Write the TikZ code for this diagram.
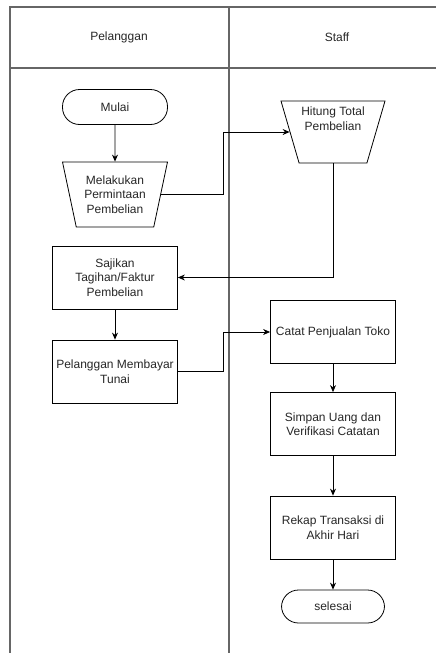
\documentclass[tikz,border=0pt]{standalone}
\usepackage{fontspec}
\setmainfont{Liberation Sans}
\usetikzlibrary{shapes.geometric}
\usetikzlibrary{arrows.meta}

\tikzset{
  lane/.style={draw=black!60, line width=1.3pt},
  txt/.style={font=\fontsize{12}{14.5}\selectfont, text=black!85, align=center},
  proses/.style={txt, draw, line width=0.8pt, minimum width=125pt, minimum height=63pt, inner sep=1pt},
  terminal/.style={txt, draw, line width=0.8pt, rounded corners=17pt, minimum width=105pt, minimum height=35pt, inner sep=0pt},
  manual/.style={txt, draw, line width=0.8pt, trapezium, shape border rotate=180,
    trapezium angle=70, trapezium stretches body, minimum width=104pt, minimum height=64pt, inner sep=0pt},
  panah/.style={-{Stealth[length=7pt,width=6pt]}, line width=0.8pt}
}

\begin{document}
\begin{tikzpicture}[x=1pt,y=-1pt]
\useasboundingbox (0,0) rectangle (436,653);

% swimlanes
\draw[lane] (436,7) -- (10,7) -- (10,653);
\draw[lane] (10,68) -- (436,68);
\draw[lane] (229,7) -- (229,653);
\node[txt] (hpel) at (119,37) {Pelanggan};
\node[txt] (hsta) at (337,37) {Staff};

% pelanggan
\node[terminal] (mulai) at (115,107) {Mulai};
\node[manual, minimum width=105pt, minimum height=65pt] (minta) at (115,194.5) {Melakukan\\Permintaan\\Pembelian};
\node[proses] (saji) at (115,277.5) {Sajikan\\Tagihan/Faktur\\Pembelian};
\node[proses] (bayar) at (115,371.5) {Pelanggan Membayar\\Tunai};

% staff
\node[manual, minimum height=62pt] (hitung) at (333,132) {Hitung Total\\Pembelian\\[12pt]};
\node[proses] (catat) at (333,332) {Catat Penjualan Toko};
\node[proses] (simpan) at (333,424) {Simpan Uang dan\\Verifikasi Catatan};
\node[proses] (rekap) at (333,527.5) {Rekap Transaksi di\\Akhir Hari};
\node[terminal, minimum width=103pt, minimum height=33pt] (selesai) at (333,606.5) {selesai};

\coordinate (belok) at (223,0);

% alur
\draw[panah] (mulai) -- (minta);
\draw[panah] (minta.east) -| (belok |- hitung.west) -- (hitung.west);
\draw[panah] (hitung.south) |- (saji.east);
\draw[panah] (saji) -- (bayar);
\draw[panah] (bayar.east) -| (belok |- catat.west) -- (catat.west);
\draw[panah] (catat) -- (simpan);
\draw[panah] (simpan) -- (rekap);
\draw[panah] (rekap) -- (selesai);

\end{tikzpicture}
\end{document}
